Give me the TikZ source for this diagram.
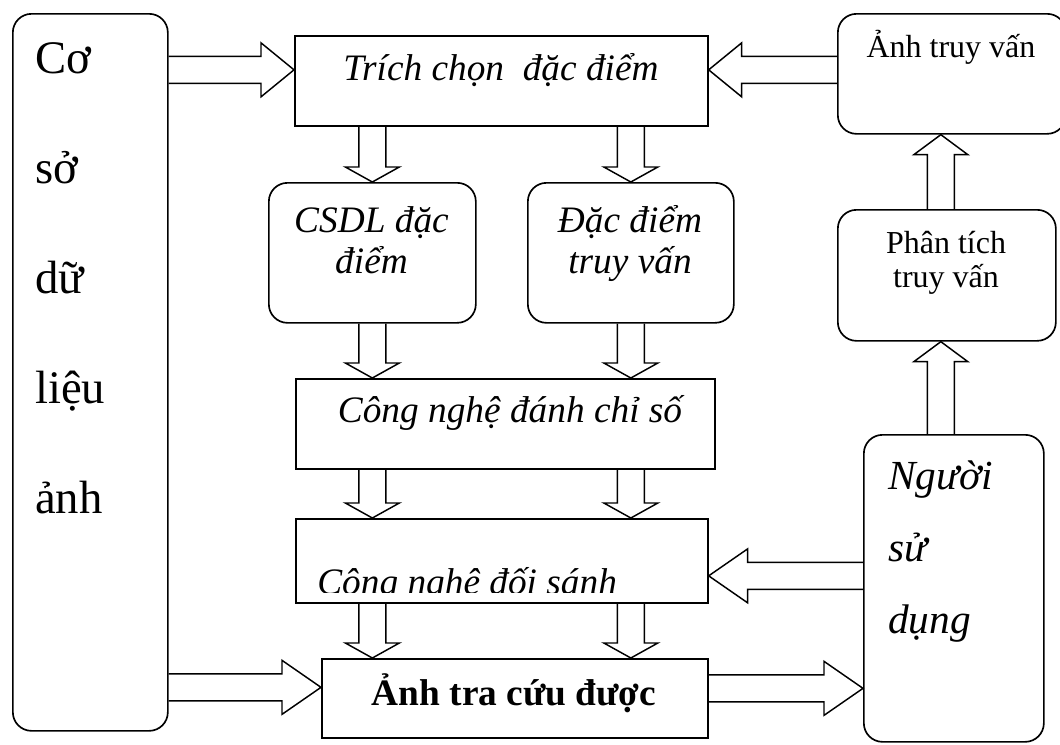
\documentclass[tikz,border=0pt]{standalone}
\usepackage{fontspec}
\setmainfont{Liberation Serif}
\usetikzlibrary{positioning, calc}

\newcommand{\px}{0.75pt}
% hollow block arrow from #2 to #3, head length #1 (px)
\newcommand{\fatarrow}[3][15]{%
  \coordinate (hb) at ($(#3)!#1*\px!(#2)$);
  \draw[fat] ($(#2)!13.5*\px!90:(#3)$) -- ($(hb)!13.5*\px!90:(#3)$)
    -- ($(hb)!27*\px!90:(#3)$) -- (#3) -- ($(hb)!27*\px!-90:(#3)$)
    -- ($(hb)!13.5*\px!-90:(#3)$) -- ($(#2)!13.5*\px!-90:(#3)$);
}

\begin{document}
\begin{tikzpicture}[
  x=0.75pt, y=-0.75pt,
  sqbox/.style={draw, line width=1.25pt, inner sep=0pt, anchor=north west},
  rdbox/.style={sqbox, rounded corners=14pt},
  fat/.style={draw, line width=1.1pt},
  txt/.style={inner sep=0pt, align=center},
  itbig/.style={font=\fontsize{28}{30.75}\selectfont\itshape},
  upsmall/.style={font=\fontsize{24}{25.5}\selectfont}
]

\useasboundingbox (0,0) rectangle (1060,744);

% ── Boxes ────────────────────────────────────────────────────────────────────
\node[rdbox, minimum width=155*\px, minimum height=717*\px] (dbox) at (12,13) {};
\node[sqbox, minimum width=413*\px, minimum height=90*\px] (extract) at (294,35) {};
\node[rdbox, minimum width=228*\px, minimum height=120*\px] (qimg) at (837,13) {};
\node[rdbox, minimum width=207*\px, minimum height=140*\px] (csdl) at (268,182) {};
\node[rdbox, minimum width=206*\px, minimum height=140*\px] (qfeat) at (527,182) {};
\node[rdbox, minimum width=218*\px, minimum height=131*\px] (analysis) at (837,209) {};
\node[sqbox, minimum width=419*\px, minimum height=90*\px] (index) at (295,378) {};
\node[sqbox, minimum width=412*\px, minimum height=84*\px] (match) at (295,518) {};
\node[sqbox, minimum width=386*\px, minimum height=79*\px] (result) at (321,658) {};
\node[rdbox, minimum width=180*\px, minimum height=307*\px] (user) at (863,434) {};

% ── Texts (base = last line) ─────────────────────────────────────────────────
\node[txt, anchor=base west, align=left, font=\fontsize{35}{82.5}\selectfont]
  (dbtext) at (35,513) {Cơ\\sở\\dữ\\liệu\\ảnh};
\node[txt, itbig, anchor=base] (extracttext) at (501,80) {Trích chọn~ đặc điểm};
\node[txt, upsmall, anchor=base] (qimgtext) at (951,57) {Ảnh truy vấn};
\node[txt, itbig, anchor=base] (csdltext) at (371.5,273) {CSDL đặc\\điểm};
\node[txt, itbig, anchor=base] (qfeattext) at (630,273) {Đặc điểm\\truy vấn};
\node[txt, upsmall, anchor=base] (analysistext) at (946,287) {Phân tích\\truy vấn};
\node[txt, itbig, anchor=base] (indextext) at (510,422) {Công nghệ đánh chỉ số};
\begin{scope}
  \clip (295,518) rectangle (707,592);
  \node[txt, itbig, anchor=base west] (matchtext) at (317,594) {Công nghệ đối sánh};
\end{scope}
\node[txt, anchor=base, font=\fontsize{28}{30}\selectfont\bfseries]
  (resulttext) at (514,705) {Ảnh tra cứu được};
\node[txt, anchor=base west, align=left, font=\fontsize{31}{54}\selectfont\itshape]
  (usertext) at (888,633) {Người\\sử\\dụng};

% ── Arrows into feature extraction ───────────────────────────────────────────
\coordinate (in1e) at ([yshift=11*\px]extract.west);
\coordinate (in1s) at (dbox.east |- in1e);
\fatarrow[33]{in1s}{in1e}
\coordinate (q1e) at ([yshift=11*\px]extract.east);
\coordinate (q1s) at (qimg.west |- q1e);
\fatarrow[33]{q1s}{q1e}

% ── Down the middle column ───────────────────────────────────────────────────
\coordinate (f1s) at (csdl.north |- extract.south);
\fatarrow{f1s}{csdl.north}
\coordinate (f2s) at (qfeat.north |- extract.south);
\fatarrow{f2s}{qfeat.north}

\foreach \col in {csdl, qfeat} {
  \coordinate (\col-a) at (\col.south |- index.north);
  \coordinate (\col-b) at (\col.south |- index.south);
  \coordinate (\col-c) at (\col.south |- match.north);
  \coordinate (\col-d) at (\col.south |- match.south);
  \coordinate (\col-e) at (\col.south |- result.north);
  \fatarrow{\col.south}{\col-a}
  \fatarrow{\col-b}{\col-c}
  \fatarrow{\col-d}{\col-e}
}

% ── Bottom row ───────────────────────────────────────────────────────────────
\coordinate (in2e) at ([yshift=11*\px]result.west);
\coordinate (in2s) at (dbox.east |- in2e);
\fatarrow[39]{in2s}{in2e}
\coordinate (out1s) at ([yshift=10*\px]result.east);
\coordinate (out1e) at (user.west |- out1s);
\fatarrow[39]{out1s}{out1e}
\coordinate (fb1e) at ([yshift=-15*\px]match.east);
\coordinate (fb1s) at (user.west |- fb1e);
\fatarrow[39]{fb1s}{fb1e}

% ── Right column, upwards ────────────────────────────────────────────────────
\coordinate (up1s) at ([xshift=-13*\px]user.north);
\coordinate (up1e) at (up1s |- analysis.south);
\fatarrow[20]{up1s}{up1e}
\coordinate (up2s) at (up1s |- analysis.north);
\coordinate (up2e) at (up1s |- qimg.south);
\fatarrow[20]{up2s}{up2e}

\end{tikzpicture}
\end{document}
